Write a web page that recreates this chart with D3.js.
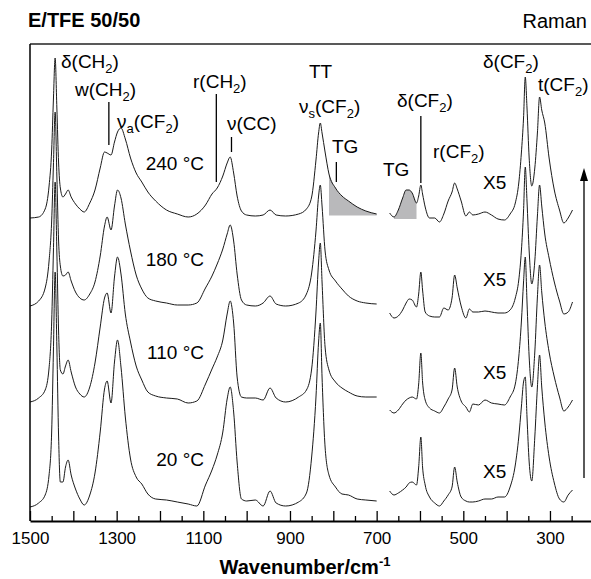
<!DOCTYPE html>
<html>
<head>
<meta charset="utf-8">
<script src="https://cdn.jsdelivr.net/npm/d3@7"></script>
<style>
  body { margin: 0; background: #fff; }
  text { font-family: "Liberation Sans", Arial, sans-serif; fill: #000; }
</style>
</head>
<body>
<svg id="chart" width="591" height="579"></svg>
<script>
// spectra data (wavenumber in cm-1, intensity above each trace's baseline)
const temps = ["20 °C", "110 °C", "180 °C", "240 °C"]
const offsets = [14, 119, 215, 303]

const leftWn = [1500,1480,1465,1456,1450,1446,1442,1438,1434,1430,
  1424,1418,1412,1405,1395,1385,1375,1362,1350,1338,
  1328,1322,1313,1305,1298,1290,1280,1268,1255,1242,
  1228,1210,1185,1160,1135,1115,1095,1080,1068,1055,
  1045,1038,1030,1022,1012,1000,980,962,946,932,
  910,880,862,850,840,834,830,826,819,810,
  795,780,765,745,725,700]

const rightWn = [670,660,650,640,632,625,618,608,603,598,
  594,588,578,566,555,545,535,526,520,514,
  505,494,486,478,465,450,435,420,405,392,
  380,372,366,361,357,353,348,342,335,329,
  324,319,312,302,290,278,268,258,248]

const left20 = [0,4,12,32,75,155,235,160,70,25,
  25,40,47,32,18,8,2,12,34,75,
  118,126,104,145,167,140,90,48,30,23,
  13,8,7,5,3,1,22,37,52,75,
  108,120,95,45,8,6,7,1,16,4,
  1,5,14,50,110,165,184,130,60,32,
  20,13,12,8,7,6]
const left110 = [0,4,12,34,80,150,220,150,70,32,
  28,36,42,30,15,8,5,15,39,75,
  104,109,89,125,145,128,88,60,36,22,
  10,6,4,3,-1,1,18,33,45,62,
  88,101,79,25,5,4,4,2,14,4,
  0,5,12,33,90,140,159,120,55,32,
  20,14,10,6,5,5]
const left180 = [0,5,18,45,85,140,194,130,65,40,
  30,31,34,25,14,8,6,12,24,50,
  80,89,76,100,116,108,82,55,31,17,
  8,5,3,1,1,3,18,30,42,57,
  72,81,65,32,6,1,0,3,10,2,
  0,3,12,33,75,110,121,100,55,36,
  25,17,10,5,3,2]
const left240 = [0,1,9,32,68,118,160,110,55,30,
  21,24,28,21,14,9,6,15,28,50,
  66,65,63,76,86,90,79,60,45,36,
  26,17,8,4,1,4,13,24,30,42,
  55,61,45,22,7,3,2,3,8,3,
  2,4,9,21,58,85,95,85,66,44,
  30,22,17,11,7,4]

const right20 = [16,12,14,17,20,24,25,22,40,70,
  40,22,10,4,1,6,12,20,40,25,
  10,6,5,5,6,8,8,10,10,20,
  42,70,100,125,130,90,45,26,70,120,
  152,120,85,50,24,8,5,12,17]
const right110 = [-8,-11,-8,-2,2,4,5,3,18,49,
  20,2,-6,-9,-11,-5,3,12,34,15,
  1,-5,-10,-2,-3,2,-1,-2,-3,5,
  18,45,80,120,145,100,45,15,50,105,
  137,110,80,50,25,5,-9,-5,2]
const right180 = [-7,-12,-10,-4,3,7,6,-1,12,34,
  16,-6,-10,-11,-11,-2,-4,8,31,18,
  0,-12,-3,-6,-6,-5,-6,-7,-7,-4,
  8,26,55,95,139,105,55,22,45,90,
  121,100,72,48,24,5,-8,-6,4]
const right240 = [5,1,8,20,28,28,25,15,22,33,
  24,11,0,0,-4,4,17,26,35,29,
  17,2,6,3,4,6,3,-1,-2,4,
  15,35,65,100,141,110,60,32,50,85,
  121,108,95,60,28,8,-5,0,8]

// shaded TG bands on the 240 °C trace: [segment, from, to, base]
const tgBands = [["left", 810, 700, 2.5], ["right", 660, 608, -1]]

const majorTicks = [1500,1400,1300,1200,1100,1000,900,800,700,600,500,400,300]
const tickLabels = [1500,1300,1100,900,700,500,300]
const minorTicks = [1450,1350,1250,1150,1050,950,850,750,650,550,450,350,250]

const svg = d3.select("#chart")
const x = d3.scaleLinear().domain([1500, 200]).range([30, 593.3])
const y = d3.scaleLinear().domain([0, 477]).range([521, 44])

const leftVals = [left20, left110, left180, left240]
const rightVals = [right20, right110, right180, right240]

const series = temps.map((t, i) => ({
  label: t,
  offset: offsets[i],
  left: leftWn.map((w, j) => [w, offsets[i] + leftVals[i][j]]),
  right: rightWn.map((w, j) => [w, offsets[i] + rightVals[i][j]])
}))

const line = d3.line()
  .x(d => x(d[0]))
  .y(d => y(d[1]))
  .curve(d3.curveMonotoneX)

// gray TG areas
const hot = series[3]
tgBands.forEach(([seg, from, to, base]) => {
  const pts = hot[seg].filter(d => d[0] <= from && d[0] >= to)
  const area = d3.area()
    .x(d => x(d[0]))
    .y0(y(hot.offset + base))
    .y1(d => y(d[1]))
    .curve(d3.curveMonotoneX)
  svg.append("path")
    .attr("d", area(pts))
    .attr("fill", "#b9b9bb")
})

series.forEach(s => {
  ["left", "right"].forEach(seg => {
    svg.append("path")
      .attr("d", line(s[seg]))
      .attr("fill", "none")
      .attr("stroke", "#1a1a1a")
      .attr("stroke-width", 1)
  })
})

// frame
svg.append("line").attr("x1", 30).attr("x2", 591).attr("y1", 44).attr("y2", 44)
  .attr("stroke", "#222").attr("stroke-width", 1.3)
svg.append("line").attr("x1", 30).attr("x2", 30).attr("y1", 44).attr("y2", 521)
  .attr("stroke", "#000").attr("stroke-width", 1.5)

// x axis
const gx = svg.append("g").attr("transform", "translate(0,521)")
gx.call(d3.axisBottom(x)
  .tickValues(majorTicks)
  .tickSizeInner(-10)
  .tickSizeOuter(0)
  .tickPadding(11)
  .tickFormat(d => tickLabels.includes(d) ? d : ""))
gx.select(".domain").attr("stroke-width", 1.8)
gx.selectAll(".tick line").attr("stroke-width", 1.3)
gx.selectAll(".tick text")
  .attr("font-size", 17)
  .attr("font-family", "Liberation Sans, Arial, sans-serif")

const gm = svg.append("g").attr("transform", "translate(0,521)")
gm.call(d3.axisBottom(x).tickValues(minorTicks).tickSizeInner(-5).tickSizeOuter(0).tickFormat(""))
gm.select(".domain").remove()
gm.selectAll(".tick line").attr("stroke-width", 1.3)

svg.append("text")
  .attr("x", 305).attr("y", 574)
  .attr("text-anchor", "middle")
  .attr("font-size", 20).attr("font-weight", "bold")
  .text("Wavenumber/cm")
  .append("tspan").attr("font-size", 13).attr("dy", -8).text("-1")

// titles
svg.append("text").attr("x", 28).attr("y", 27)
  .attr("font-size", 20).attr("font-weight", "bold").text("E/TFE 50/50")
svg.append("text").attr("x", 587).attr("y", 28)
  .attr("text-anchor", "end").attr("font-size", 20).text("Raman")

// labels with subscripts
function label(parts, px, py, anchor) {
  const t = svg.append("text")
    .attr("x", px).attr("y", py)
    .attr("font-size", 19)
    .attr("text-anchor", anchor || "start")
  let sub = false
  parts.forEach(p => {
    const isSub = p.startsWith("_")
    const txt = isSub ? p.slice(1) : p
    const ts = t.append("tspan").text(txt)
    if (isSub) { ts.attr("font-size", 13).attr("dy", 5); sub = true }
    else if (sub) { ts.attr("dy", -5); sub = false }
  })
}

label(["δ(CH", "_2", ")"], 61, 68)
label(["w(CH", "_2", ")"], 75, 96)
label(["ν", "_a", "(CF", "_2", ")"], 117, 128)
label(["r(CH", "_2", ")"], 193, 88)
label(["ν(CC)"], 227, 130)
label(["TT"], 309, 78)
label(["ν", "_s", "(CF", "_2", ")"], 299, 113)
label(["TG"], 332, 153)
label(["TG"], 383, 176)
label(["δ(CF", "_2", ")"], 397, 107)
label(["r(CF", "_2", ")"], 433, 158)
label(["δ(CF", "_2", ")"], 483, 68)
label(["t(CF", "_2", ")"], 538, 91)

const tempY = [466, 359, 266, 170]
const x5Y = [478, 379, 286, 189]
temps.forEach((t, i) => {
  label([t], 204, tempY[i], "end")
  label(["X5"], 483, x5Y[i])
})

// marker lines for assignments: [wavenumber, y1, y2]
const markers = [[1318, 102, 145], [1070, 94, 182], [1035, 137, 152], [793, 162, 182], [598, 116, 183]]
markers.forEach(([w, y1, y2]) => {
  svg.append("line").attr("x1", x(w)).attr("x2", x(w)).attr("y1", y1).attr("y2", y2)
    .attr("stroke", "#000").attr("stroke-width", 1.3)
})

// temperature arrow
svg.append("line").attr("x1", 584).attr("x2", 584).attr("y1", 478).attr("y2", 178)
  .attr("stroke", "#000").attr("stroke-width", 1.3)
svg.append("path").attr("d", "M584,168 L580,181 L588,181 Z").attr("fill", "#000")
</script>
</body>
</html>
